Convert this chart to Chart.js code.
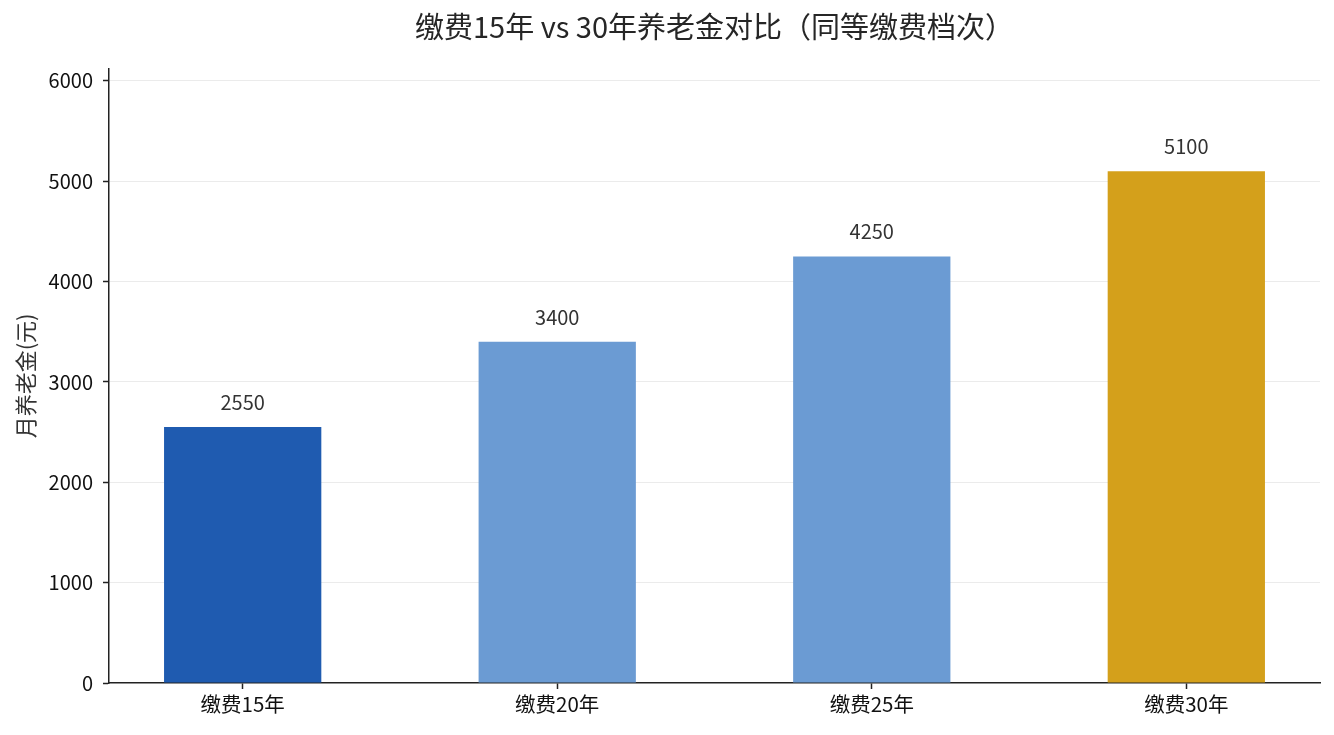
<!DOCTYPE html>
<html>
<head>
<meta charset="utf-8">
<script src="https://cdn.jsdelivr.net/npm/chart.js@4"></script>
<style>
    html, body { margin: 0; padding: 0; background: #fff; }
    #wrap { width: 1334px; height: 735px; position: relative; }
</style>
</head>
<body>
<div id="wrap"><canvas id="chart"></canvas></div>
<script>
const categories = ['缴费15年', '缴费20年', '缴费25年', '缴费30年'];
const pensionValues = [2550, 3400, 4250, 5100];
const barColors = ['#1f5bb0', '#6b9bd3', '#6b9bd3', '#d4a01b'];
const yTicks = [0, 1000, 2000, 3000, 4000, 5000, 6000];

const FONT = '"Noto Sans CJK SC", "Noto Sans", sans-serif';
const AXIS_COLOR = '#222';

// Value labels above each bar
const valueLabels = {
    id: 'valueLabels',
    afterDatasetsDraw(chart) {
        const ctx = chart.ctx;
        const meta = chart.getDatasetMeta(0);
        ctx.save();
        ctx.font = `20px ${FONT}`;
        ctx.fillStyle = '#333';
        ctx.textAlign = 'center';
        ctx.textBaseline = 'alphabetic';
        meta.data.forEach((bar, i) => {
            ctx.fillText(String(pensionValues[i]), bar.x, bar.y - 17);
        });
        ctx.restore();
    }
};

new Chart(document.getElementById('chart'), {
    type: 'bar',
    data: {
        datasets: [{
            label: '月养老金',
            data: pensionValues.map((v, i) => ({ x: i, y: v })),
            backgroundColor: barColors,
            borderWidth: 0,
            barPercentage: 0.5,
            categoryPercentage: 1.0,
        }],
    },
    options: {
        responsive: true,
        maintainAspectRatio: false,
        animation: false,
        devicePixelRatio: 1,
        layout: { padding: { left: 0, right: 14, top: 0, bottom: 0 } },
        plugins: {
            legend: { display: false },
            tooltip: { enabled: false },
            title: {
                display: true,
                fullSize: false,
                text: '缴费15年 vs 30年养老金对比（同等缴费档次）',
                color: '#262626',
                font: { family: FONT, size: 29, weight: 'normal' },
                padding: { top: 10, bottom: 24 },
            },
        },
        scales: {
            x: {
                type: 'linear',
                min: -0.425,
                max: 3.425,
                offset: false,
                afterBuildTicks: (scale) => {
                    scale.ticks = categories.map((_, i) => ({ value: i }));
                },
                afterFit: (scale) => { scale.height = 52; },
                grid: {
                    offset: false,
                    drawOnChartArea: false,
                    drawTicks: true,
                    tickLength: 6,
                    tickWidth: 1.5,
                    tickColor: AXIS_COLOR,
                },
                border: { display: true, color: AXIS_COLOR, width: 1.5 },
                ticks: {
                    color: '#111',
                    padding: 3,
                    maxRotation: 0,
                    autoSkip: false,
                    font: { family: FONT, size: 20.5 },
                    callback: (v) => categories[v] ?? '',
                },
            },
            y: {
                min: 0,
                max: 6120,
                z: 1,
                afterBuildTicks: (scale) => {
                    scale.ticks = yTicks.map(v => ({ value: v }));
                },
                afterFit: (scale) => { scale.width = 109; },
                grid: {
                    color: (c) => (c.tick && c.tick.value === 0) ? 'rgba(0,0,0,0)' : 'rgba(215,215,215,0.5)',
                    lineWidth: 1,
                    drawTicks: true,
                    tickLength: 6,
                    tickWidth: 1.5,
                    tickColor: AXIS_COLOR,
                },
                border: { display: true, color: AXIS_COLOR, width: 1.5 },
                ticks: {
                    color: '#111',
                    padding: 10,
                    font: { family: FONT, size: 20 },
                    callback: (v) => String(v),
                },
                title: {
                    display: true,
                    text: '月养老金(元)',
                    color: '#333',
                    font: { family: FONT, size: 22 },
                    padding: { top: 12, bottom: 0 },
                },
            },
        },
    },
    plugins: [valueLabels],
});
</script>
</body>
</html>
